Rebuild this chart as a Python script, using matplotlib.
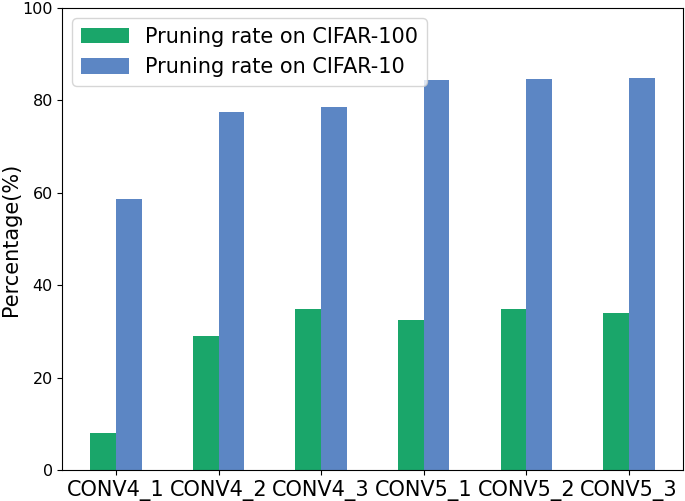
import numpy as np
from matplotlib import pyplot as plt

layers = ['CONV4_1', 'CONV4_2', 'CONV4_3', 'CONV5_1', 'CONV5_2', 'CONV5_3']
cifar100 = [8.1, 29.1, 34.8, 32.5, 34.8, 33.9]
cifar10 = [58.6, 77.4, 78.6, 84.4, 84.6, 84.9]

x = np.arange(len(layers))
width = 0.25

fig = plt.figure(figsize=(6.85, 5.01), dpi=100)
ax = fig.add_axes([0.0905, 0.062, 0.9065, 0.922])

ax.bar(x - width / 2, cifar100, width, color='#1aa66a', label='Pruning rate on CIFAR-100')
ax.bar(x + width / 2, cifar10, width, color='#5c86c4', label='Pruning rate on CIFAR-10')

ax.set_ylim(0, 100)
ax.set_xticks(x)
ax.set_xticklabels(layers, fontsize=15)
ax.tick_params(axis='y', labelsize=11.5, pad=3)
ax.set_ylabel('Percentage(%)', fontsize=15, labelpad=1)
ax.legend(loc='upper left', fontsize=15, handlelength=2.3, handleheight=0.8)

plt.savefig('out.png')
